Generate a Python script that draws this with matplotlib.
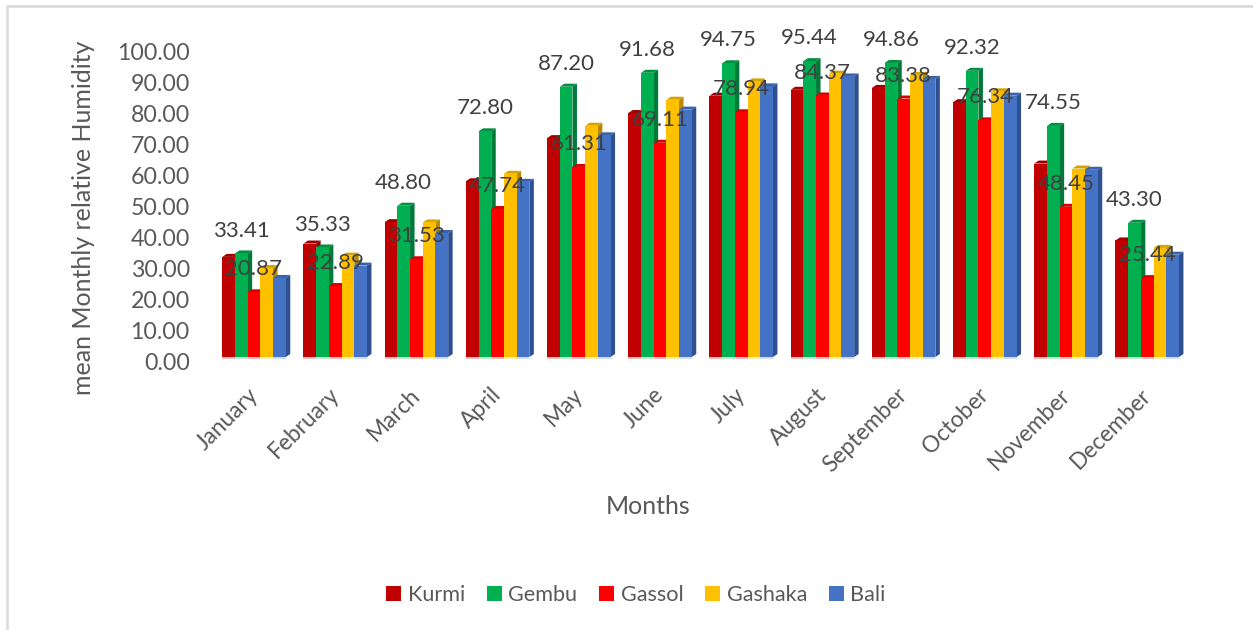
#!/usr/bin/env python3

import numpy as np
import matplotlib
matplotlib.use("Agg")
import matplotlib.pyplot as plt
from matplotlib.patches import Rectangle

months = ["January", "February", "March", "April", "May", "June", "July",
          "August", "September", "October", "November", "December"]
kurmi = [32.3, 36.6, 43.5, 56.7, 70.6, 78.7, 84.3, 86.2, 86.8, 82.2, 62.4, 37.6]
gembu = [33.41, 35.33, 48.80, 72.80, 87.20, 91.68, 94.75, 95.44, 94.86, 92.32, 74.55, 43.30]
gassol = [20.87, 22.89, 31.53, 47.74, 61.31, 69.11, 78.94, 84.37, 83.38, 76.34, 48.45, 25.44]
gashaka = [28.7, 32.7, 43.4, 59.1, 74.6, 83.0, 88.9, 91.4, 91.0, 85.7, 60.8, 35.2]
bali = [25.5, 29.5, 40.0, 56.5, 71.5, 79.8, 87.3, 90.5, 89.7, 84.3, 60.4, 33.0]

names = ["Kurmi", "Gembu", "Gassol", "Gashaka", "Bali"]
series = [kurmi, gembu, gassol, gashaka, bali]
front = ["#c00000", "#00b050", "#ff0000", "#ffc000", "#4472c4"]
side = ["#8a0000", "#007a38", "#b80000", "#b88a00", "#2f5090"]
top = ["#a00000", "#009040", "#d80000", "#d8a300", "#3a62a8"]

plt.rcParams["font.family"] = ["Lato", "DejaVu Sans"]

W, H = 1253, 630
fig = plt.figure(figsize=(W / 100, H / 100), dpi=100)

# axes box in pixels: baseline at y=357, one month = 81.2 px, one unit = 3.1 px
left, right, base, upper = 213.4, 1197.0, 357.0, 47.0
ax = fig.add_axes([left / W, 1 - base / H, (right - left) / W, (base - upper) / H])
ax.set_ylim(0, 100)
step = 81.2
ax.set_xlim(-0.5, (right - left) / step - 0.5)
bar_w = 12.7 / step
dx = 4.5 / step   # depth of the fake 3d
dy = 3.0 / 3.1

x = np.arange(len(months))
for i, (vals, name) in enumerate(zip(series, names)):
    xs = x + (i - 2) * bar_w
    ax.bar(xs, vals, bar_w, color=front[i], zorder=3 + 2 * i, linewidth=0)
    for xc, v in zip(xs, vals):
        xl, xr = xc - bar_w / 2, xc + bar_w / 2
        ax.fill([xr, xr + dx, xr + dx, xr], [0, dy, v + dy, v],
                color=side[i], lw=0, zorder=2 + 2 * i)
        ax.fill([xl, xl + dx, xr + dx, xr], [v, v + dy, v + dy, v],
                color=top[i], lw=0, zorder=2 + 2 * i)
        # pale floor strip under the bar
        ax.fill([xl, xr, xr, xl], [0, 0, -0.8, -0.8], color=front[i], alpha=0.25,
                lw=0, clip_on=False, zorder=1)

for vals, i in ((gembu, 1), (gassol, 2)):
    for j, v in enumerate(vals):
        ax.annotate(f"{v:.2f}", (j + (i - 2) * bar_w, v), xytext=(0, 16.5),
                    textcoords="offset points", ha="center", va="center",
                    fontsize=16, color="#404040", zorder=30)

for s in ax.spines.values():
    s.set_visible(False)
ax.patch.set_alpha(0)

yvals = np.arange(0, 101, 10)
ax.set_yticks(yvals)
ax.set_yticklabels([])
ax.set_xticks(x)
ax.set_xticklabels([])
ax.tick_params(axis="both", length=0)

# the wall of the 3d chart puts tick labels a few px below the bar scale
for v in yvals:
    ax.annotate(f"{v:.2f}", (0, v), xycoords=ax.get_yaxis_transform(),
                xytext=(-17, -4.5), textcoords="offset points", ha="right",
                va="center", fontsize=16.7, color="#595959")
for j, m in enumerate(months):
    ax.annotate(m, (j, 0), xytext=(-5, -19.5), textcoords="offset points",
                ha="right", va="top", rotation=45, rotation_mode="anchor",
                fontsize=16.3, color="#595959", annotation_clip=False)

fig.text(84 / W, 1 - 218 / H, "mean Monthly relative Humidity", rotation=90,
         ha="center", va="center", fontsize=18, color="#595959")
fig.text(648 / W, 1 - 507 / H, "Months", ha="center", va="center",
         fontsize=18, color="#595959")

handles = [Rectangle((0, 0), 1, 1, color=c, lw=0) for c in front]
fig.legend(handles, names, loc="center", bbox_to_anchor=(636 / W, 1 - 595 / H),
           ncol=5, frameon=False, fontsize=15.6, labelcolor="#595959",
           handlelength=0.7, handleheight=0.7, handletextpad=0.3,
           columnspacing=1.0)

# light outer frame of the pasted chart
fig.add_artist(plt.Line2D([7 / W, 7 / W, 1], [0, 1 - 6 / H, 1 - 6 / H],
                          color="#d9d9d9", lw=1.8))

fig.savefig("out.png", dpi=100)
plt.close(fig)
